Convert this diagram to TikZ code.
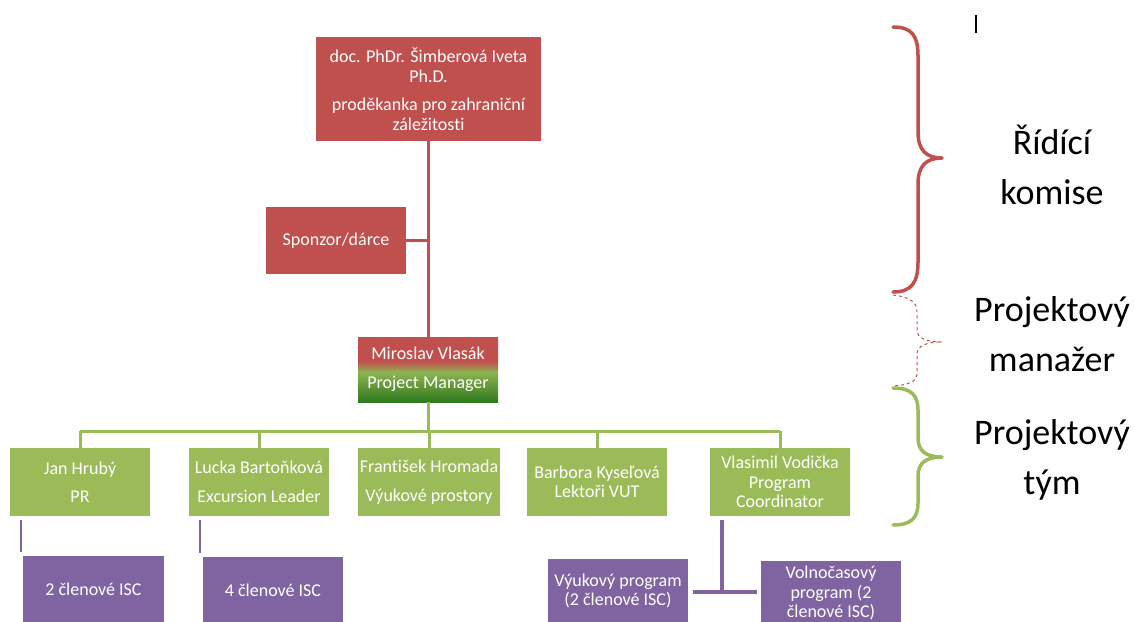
\documentclass[tikz,border=0pt]{standalone}
\usepackage{fontspec}
\setmainfont{Carlito}[Ligatures=NoCommon]
\usetikzlibrary{calc}
\definecolor{offred}{HTML}{C0504D}
\definecolor{offgreen}{HTML}{9BBB59}
\definecolor{offpurple}{HTML}{8064A2}
\definecolor{mgrgreenL}{HTML}{8DB552}
\definecolor{mgrgreenM}{HTML}{6E9E3E}
\definecolor{mgrgreenD}{HTML}{2F7A1E}
\pgfdeclareverticalshading{mgrshade}{100bp}{%
  color(0bp)=(mgrgreenD); color(25bp)=(mgrgreenD); color(40bp)=(mgrgreenM);
  color(48bp)=(mgrgreenL); color(56bp)=(offred); color(75bp)=(offred);
  color(100bp)=(offred)}
\tikzset{
  box/.style={draw=none, inner sep=0pt, outer sep=0pt, align=center,
    text=white, font=\fontsize{18}{19.5}\selectfont,
    minimum width=140pt, minimum height=67pt},
  redbox/.style={box, fill=offred},
  greenbox/.style={box, fill=offgreen},
  purplebox/.style={box, fill=offpurple},
  redline/.style={draw=offred, line width=3pt},
  greenline/.style={draw=offgreen, line width=3pt},
  purpleline/.style={draw=offpurple, line width=3.5pt},
  bracket/.style={line width=3.5pt, line cap=round, line join=round},
  sidelabel/.style={align=center, font=\fontsize{36}{50}\selectfont, text=black}
}
\begin{document}
\begin{tikzpicture}[x=1pt,y=-1pt]
\useasboundingbox (0,0) rectangle (1134,621);

% steering committee and project manager
\node[redbox, minimum width=225pt, minimum height=104pt] (dean) at (428.5,89)
  {doc. PhDr. Šimberová Iveta\\Ph.D.\\[9pt]proděkanka pro zahraniční\\záležitosti};
\node[redbox] (sponsor) at (336,240.5) {Sponzor/dárce};
\node[box, shading=mgrshade, minimum height=65pt] (pm) at (428,369.5)
  {Miroslav Vlasák\\[9.5pt]Project Manager};

% project team
\node[greenbox, minimum height=68pt] (jan) at (80,482) {Jan Hrubý\\[9pt]PR};
\node[greenbox, minimum height=68pt] (lucka) at (259,482) {Lucka Bartoňková\\[9pt]Excursion Leader};
\node[greenbox, minimum height=68pt, minimum width=142pt] (frant) at (429,482) {František Hromada\\[9pt]Výukové prostory};
\node[greenbox, minimum height=68pt] (barbora) at (597,482) {Barbora Kyseľová\\Lektoři VUT};
\node[greenbox, minimum height=68pt] (vlasimil) at (780,482) {Vlasimil Vodička\\Program\\Coordinator};

% ISC members
\node[purplebox, minimum width=141pt, minimum height=66pt] (isctwo) at (93.5,589) {2 členové ISC};
\node[purplebox, minimum height=66pt] (iscfour) at (273,590) {4 členové ISC};
\node[purplebox, minimum height=64pt] (vyuka) at (618,591) {Výukový program\\(2 členové ISC)};
\node[purplebox, minimum height=64pt] (volno) at (831,593) {Volnočasový\\program (2\\členové ISC)};

% connectors
\draw[redline] (dean.south -| pm.north) -- (pm.north);
\draw[redline] (sponsor.east) -- (sponsor.east -| pm.north);

\coordinate (bus) at ($(pm.south)+(0,29)$);
\draw[greenline] (pm.south) -- (bus);
\draw[greenline] (bus -| jan.north) -- (bus -| vlasimil.north);
\foreach \n in {jan,lucka,frant,barbora,vlasimil}
  \draw[greenline] (bus -| \n.north) -- (\n.north);

\coordinate (jtop) at ($(jan.south west)+(11,4)$);
\coordinate (jbot) at ($(jan.south west)+(11,36)$);
\draw[offpurple, line width=2.8pt] (jtop) -- (jbot);
\coordinate (ltop) at ($(lucka.south west)+(11,4)$);
\coordinate (lbot) at ($(lucka.south west)+(11,37)$);
\draw[offpurple, line width=2.8pt] (ltop) -- (lbot);

\coordinate (vtop) at ($(vlasimil.south west)+(12,4)$);
\coordinate (vjoin) at (vtop |- 0,592);
\draw[purpleline] (vtop) -- (vjoin);
\draw[purpleline] ($(vyuka.east |- vjoin)+(5,0)$) -- ($(volno.west |- vjoin)+(-4,0)$);

% braces on the right
\draw[bracket, offred]
  (893,27) .. controls (912,27) and (918,36) .. (918,56) -- (918,132)
  .. controls (918,150) and (926,158) .. (942,158)
  .. controls (926,158) and (918,166) .. (918,184) -- (918,262)
  .. controls (918,282) and (912,292) .. (893,292);
\draw[offred, line width=1pt, dashed]
  (893,295) .. controls (910,297) and (917,302) .. (917,312) -- (917,330)
  .. controls (917,338) and (926,342) .. (942,342)
  .. controls (926,342) and (917,346) .. (917,354) -- (917,373)
  .. controls (917,381) and (910,385) .. (893,386);
\draw[bracket, offgreen]
  (893,388) .. controls (911,388) and (918,395) .. (918,410) -- (918,438)
  .. controls (918,451) and (926,457) .. (942,457)
  .. controls (926,457) and (918,463) .. (918,476) -- (918,503)
  .. controls (918,518) and (911,525) .. (893,525);

\node[sidelabel] (steer) at (1052,165) {Řídící\\komise};
\node[sidelabel] (mgrlab) at (1052,334) {Projektový\\manažer};
\node[sidelabel] (teamlab) at (1052,460) {Projektový\\tým};

% text cursor
\coordinate (cura) at (976,15);
\coordinate (curb) at (976,33);
\draw[black, line width=1.2pt] (cura) -- (curb);
\end{tikzpicture}
\end{document}
